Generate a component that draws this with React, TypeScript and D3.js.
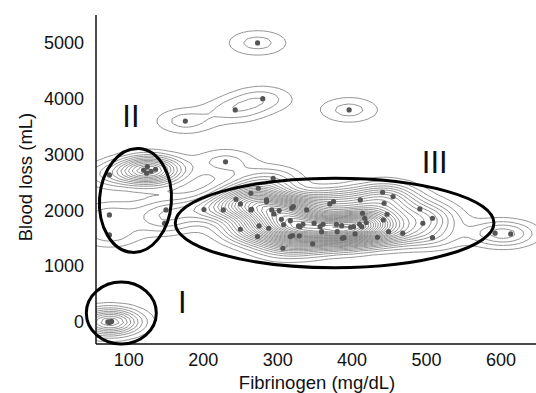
import React, { useMemo } from "react";
import * as d3 from "d3";

// ---- data ----
const fibrinogen = [
  // cluster I
  72, 75, 77, 74,
  // cluster II
  125, 136, 124, 230, 74, 74, 150, 148, 120, 130, 74,
  // upper points
  273, 396, 176, 243, 280,
  // cluster III
  201, 227, 250, 244, 264, 264, 250, 274, 275, 273, 285, 288, 294, 292, 295, 302,
  305, 308, 307, 319, 317, 317, 321, 328, 330, 334, 320, 329, 339, 347, 349, 357,
  361, 359, 370, 375, 379, 386, 387, 380, 389, 398, 402, 404, 410, 411, 414, 417,
  413, 419, 434, 441, 443, 447, 449, 442, 455, 468, 491, 495, 508, 508, 592, 613,
  285, 265,
];
const bloodLoss = [
  0, 0, 10, -10,
  2783, 2736, 2665, 2870, 2634, 1918, 2007, 1769, 2720, 2700, 1560,
  5000, 3800, 3600, 3800, 4000,
  2013, 2007, 2115, 2199, 2306, 2007, 1661, 2396, 1720, 1529, 2156, 1679, 2575, 2007, 1935, 1995,
  1840, 1744, 1321, 2038, 1529, 1815, 2066, 1720, 1708, 1751, 1547, 1541, 2007, 1398, 1769, 1708,
  1751, 1618, 2115, 2156, 1751, 1726, 1500, 1618, 1511, 1697, 1708, 1577, 1751, 2186, 1948, 1858,
  1708, 1780, 1518, 2324, 2127, 1930, 1618, 1828, 2246, 1590, 2025, 1769, 1858, 1511, 1590, 1577,
  2186, 2019,
];
const xTicks = [100, 200, 300, 400, 500, 600];
const yTicks = [0, 1000, 2000, 3000, 4000, 5000];
const groupNames = ["I", "II", "III"];
// group ellipses in data units: centre fib, centre blood loss, radius fib, radius blood loss, tilt
const groupCx = [90, 109, 376.5];
const groupCy = [161, 2177, 1774];
const groupRx = [47, 48.3, 214];
const groupRy = [556, 932, 801];
const groupTilt = [0, 4, 0];
const labelFib = [172, 103, 511];
const labelLoss = [161, 3495, 2676];

const W = 536;
const H = 393;
const L = 96, R = 536, T = 15, B = 344;

export default function App() {
  const x = d3.scaleLinear().domain([56, 647]).range([L, R]);
  const y = d3.scaleLinear().domain([-395, 5500]).range([B, T]);

  const contours = useMemo(() => {
    const sx = 21, sy = 9;
    const cw = 5, ch = 4;
    const x0 = L - 20, y0 = T - 10;
    const nx = Math.ceil((R + 20 - x0) / cw);
    const ny = Math.ceil((B + 20 - y0) / ch);
    const px = fibrinogen.map((f) => x(f));
    const py = bloodLoss.map((b) => y(b));
    const values = new Float64Array(nx * ny);
    for (let j = 0; j < ny; j++) {
      const gy = y0 + (j + 0.5) * ch;
      for (let i = 0; i < nx; i++) {
        const gx = x0 + (i + 0.5) * cw;
        let s = 0;
        for (let k = 0; k < px.length; k++) {
          const dx = (gx - px[k]) / sx;
          const dy = (gy - py[k]) / sy;
          const e = dx * dx + dy * dy;
          if (e < 30) s += Math.exp(-0.5 * e);
        }
        values[j * nx + i] = s;
      }
    }
    const max = d3.max(values) as number;
    const th = d3.range(0.4, max, 0.4);
    const polys = d3.contours().size([nx, ny]).thresholds(th)(Array.from(values));
    const proj = d3.geoTransform({
      point(a: number, b: number) {
        (this as any).stream.point(x0 + a * cw, y0 + b * ch);
      },
    });
    const path = d3.geoPath(proj as any);
    return polys.map((p) => path(p as any) || "");
  }, []);

  const font = "'Liberation Sans', Arial, sans-serif";

  return (
    <svg width={W} height={H} style={{ display: "block", position: "absolute", left: 0, top: 0 }}>
      <defs>
        <clipPath id="plotClip">
          <rect x={L} y={T} width={R - L} height={B - T} />
        </clipPath>
      </defs>
      <rect x={0} y={0} width={W} height={H} fill="#fff" />
      <g clipPath="url(#plotClip)">
        {contours.map((d, i) => (
          <path key={i} d={d} fill="none" stroke="#7a7a7a" strokeWidth={0.8} />
        ))}
      </g>
      <g>
        {fibrinogen.map((f, i) => (
          <circle key={i} cx={x(f)} cy={y(bloodLoss[i])} r={2.6} fill="#555" />
        ))}
      </g>
      {/* axes */}
      <line x1={L} y1={T} x2={L} y2={B} stroke="#111" strokeWidth={1.5} />
      <line x1={L} y1={B} x2={R} y2={B} stroke="#111" strokeWidth={1.5} />
      {xTicks.map((t) => (
        <text key={t} x={x(t)} y={366} textAnchor="middle" fontFamily={font} fontSize={18} fill="#111">
          {t}
        </text>
      ))}
      {yTicks.map((t) => (
        <text key={t} x={84} y={y(t)} dy="0.35em" textAnchor="end" fontFamily={font} fontSize={18} fill="#111">
          {t}
        </text>
      ))}
      <text x={317} y={389} textAnchor="middle" fontFamily={font} fontSize={18.5} fill="#111">
        Fibrinogen (mg/dL)
      </text>
      <text
        transform={`translate(32,177) rotate(-90)`}
        textAnchor="middle"
        fontFamily={font}
        fontSize={18.5}
        fill="#111"
      >
        Blood loss (mL)
      </text>
      {/* group ellipses */}
      {groupNames.map((g, i) => {
        const cx = x(groupCx[i]);
        const cy = y(groupCy[i]);
        const rx = x(groupCx[i] + groupRx[i]) - cx;
        const ry = cy - y(groupCy[i] + groupRy[i]);
        return (
          <ellipse
            key={g}
            cx={cx}
            cy={cy}
            rx={rx}
            ry={ry}
            transform={`rotate(${groupTilt[i]},${cx},${cy})`}
            fill="none"
            stroke="#000"
            strokeWidth={3}
          />
        );
      })}
      {groupNames.map((g, i) => (
        <text
          key={g}
          x={x(labelFib[i])}
          y={y(labelLoss[i])}
          textAnchor="middle"
          fontFamily={font}
          fontSize={31}
          fill="#111"
        >
          {g}
        </text>
      ))}
    </svg>
  );
}
